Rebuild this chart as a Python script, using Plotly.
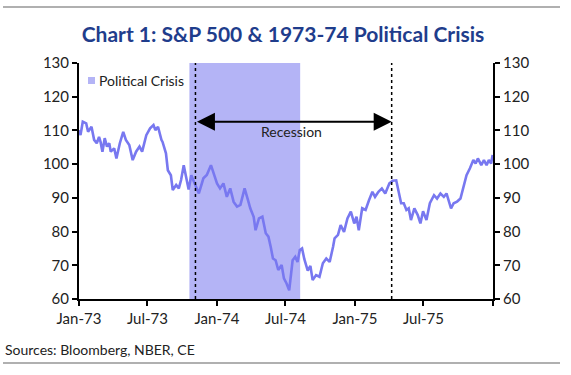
import plotly.graph_objects as go

# ---- data ----
dates = [
    "1973-01-02", "1973-01-05", "1973-01-11", "1973-01-20", "1973-01-25", "1973-02-03", "1973-02-10",
    "1973-02-17", "1973-02-23", "1973-02-27", "1973-03-04", "1973-03-10", "1973-03-16", "1973-03-22",
    "1973-03-26", "1973-04-04", "1973-04-10", "1973-04-19", "1973-04-28", "1973-05-05", "1973-05-14",
    "1973-05-23", "1973-06-01", "1973-06-10", "1973-06-17", "1973-06-28", "1973-07-08", "1973-07-17",
    "1973-07-22", "1973-07-29", "1973-08-07", "1973-08-10", "1973-08-19", "1973-08-24", "1973-09-01",
    "1973-09-06", "1973-09-15", "1973-09-22", "1973-09-28", "1973-10-05", "1973-10-11", "1973-10-18",
    "1973-10-25", "1973-11-03", "1973-11-14", "1973-11-26", "1973-12-05", "1973-12-16", "1973-12-22",
    "1974-01-01", "1974-01-09", "1974-01-18", "1974-01-27", "1974-02-05", "1974-02-14", "1974-02-23",
    "1974-03-04", "1974-03-15", "1974-03-24", "1974-03-30", "1974-04-08", "1974-04-13", "1974-04-22",
    "1974-05-01", "1974-05-10", "1974-05-17", "1974-05-23", "1974-05-29", "1974-06-05", "1974-06-12",
    "1974-06-21", "1974-06-27", "1974-07-04", "1974-07-11", "1974-07-20", "1974-07-27", "1974-08-02",
    "1974-08-08", "1974-08-14", "1974-08-20", "1974-08-29", "1974-09-05", "1974-09-11", "1974-09-20",
    "1974-09-29", "1974-10-08", "1974-10-17", "1974-10-26", "1974-11-04", "1974-11-08", "1974-11-17",
    "1974-11-24", "1974-12-03", "1974-12-12", "1974-12-21", "1974-12-30", "1975-01-05", "1975-01-11",
    "1975-01-20", "1975-01-29", "1975-02-07", "1975-02-16", "1975-02-23", "1975-03-04", "1975-03-13",
    "1975-03-22", "1975-04-02", "1975-04-11", "1975-04-20", "1975-04-27", "1975-05-03", "1975-05-10",
    "1975-05-17", "1975-05-23", "1975-05-29", "1975-06-07", "1975-06-16", "1975-06-23", "1975-06-30",
    "1975-07-09", "1975-07-18", "1975-07-29", "1975-08-06", "1975-08-15", "1975-08-24", "1975-08-31",
    "1975-09-06", "1975-09-12", "1975-09-19", "1975-09-28", "1975-10-07", "1975-10-16", "1975-10-23",
    "1975-11-01", "1975-11-10", "1975-11-16", "1975-11-22", "1975-12-01", "1975-12-08", "1975-12-15",
    "1975-12-21", "1975-12-27", "1975-12-31",
]
sp500 = [
    110.1, 108.6, 112.6, 112.1, 109.6, 111.1, 107.2,
    106.2, 108.1, 106.6, 103.7, 107.7, 105.2, 106.2,
    103.7, 104.7, 101.7, 106.2, 109.6, 107.2, 105.7,
    101.2, 103.7, 105.2, 103.7, 108.6, 110.6, 111.6,
    110.1, 111.1, 107.2, 106.6, 103.2, 98.2, 96.7,
    92.3, 93.8, 92.8, 95.3, 99.7, 96.3, 92.5,
    96.7, 94.3, 91.3, 95.8, 96.8, 99.7, 97.7,
    94.3, 92.8, 94.3, 90.3, 92.8, 88.8, 87.4,
    87.9, 92.8, 89.3, 86.9, 84.4, 80.4, 83.9,
    84.4, 79.5, 78.5, 75.5, 72.0, 71.5, 68.6,
    70.1, 66.1, 64.6, 62.6, 71.5, 72.5, 71.0,
    74.5, 75.0, 71.8, 68.4, 69.8, 65.6, 67.1,
    66.6, 70.6, 72.0, 71.0, 75.5, 78.0, 79.0,
    81.9, 79.9, 83.9, 85.9, 82.4, 84.4, 80.4,
    86.9, 86.4, 89.3, 91.8, 90.3, 91.8, 92.8,
    91.3, 94.3, 95.1, 95.2, 91.8, 88.4, 88.4,
    86.4, 86.9, 83.4, 86.9, 84.9, 82.4, 86.0,
    83.4, 88.4, 90.8, 89.8, 91.3, 90.3, 91.3,
    89.3, 86.9, 88.4, 88.9, 89.8, 93.8, 96.7,
    98.8, 101.2, 100.2, 101.7, 99.7, 101.2, 99.7,
    101.2, 100.2, 102.7,
]

crisis_start, crisis_end = "1973-10-20", "1974-08-09"
recession_start, recession_end = "1973-11-05", "1975-04-08"
arrow_level = 112.6
label_level = 109.6

x_tickvals = ["1973-01-01", "1973-07-01", "1974-01-01", "1974-07-01", "1975-01-01", "1975-07-01", "1976-01-01"]
x_ticktext = ["Jan-73", "Jul-73", "Jan-74", "Jul-74", "Jan-75", "Jul-75", ""]
y_ticks = [60, 70, 80, 90, 100, 110, 120, 130]

# ---- styling ----
LINE = "rgb(120,120,240)"
SHADE = "rgb(180,180,246)"
FONT = "Lato"
TXT = "#222222"

# plot area pixel geometry
L, R, T, B = 79, 493, 63, 299
W, H = 571, 375
def px(xp):
    return (xp - L) / (R - L)
def py(yp):
    return (B - yp) / (B - T)

fig = go.Figure()
fig.add_trace(go.Scatter(x=dates, y=sp500, mode="lines",
                         line=dict(color=LINE, width=2.6), showlegend=False, hoverinfo="x+y"))
# dummy trace for right axis
fig.add_trace(go.Scatter(x=[dates[0]], y=[sp500[0]], yaxis="y2", mode="lines",
                         line=dict(width=0), showlegend=False, hoverinfo="skip"))

shapes = [
    dict(type="rect", xref="x", yref="paper", x0=crisis_start, x1=crisis_end, y0=0, y1=1,
         fillcolor=SHADE, line=dict(width=0), layer="below"),
    dict(type="line", xref="x", yref="paper", x0=recession_start, x1=recession_start, y0=0, y1=1,
         line=dict(color="black", width=1.5, dash="dot")),
    dict(type="line", xref="x", yref="paper", x0=recession_end, x1=recession_end, y0=0, y1=1,
         line=dict(color="black", width=1.5, dash="dot")),
    # legend swatch
    dict(type="rect", xref="paper", yref="paper", x0=px(88), x1=px(95), y0=py(84), y1=py(77),
         fillcolor=SHADE, line=dict(width=0)),
    # top and bottom rules
    dict(type="line", xref="paper", yref="paper", x0=px(3), x1=px(560), y0=py(7), y1=py(7),
         line=dict(color="#b0b0b0", width=2)),
    dict(type="line", xref="paper", yref="paper", x0=px(3), x1=px(560), y0=py(363), y1=py(363),
         line=dict(color="#b0b0b0", width=2)),
]

annotations = [
    dict(x=recession_end, y=arrow_level, ax=recession_start, ay=arrow_level,
         xref="x", yref="y", axref="x", ayref="y", text="", showarrow=True,
         arrowhead=2, arrowside="end+start", arrowsize=1.8, arrowwidth=2, arrowcolor="black",
         standoff=0, startstandoff=0),
    dict(x=px(291), y=label_level, xref="paper", yref="y", text="Recession", showarrow=False,
         font=dict(family=FONT, size=14, color=TXT), xanchor="center", yanchor="middle"),
    dict(x=px(97), y=py(80), xref="paper", yref="paper", text="Political Crisis", showarrow=False,
         font=dict(family=FONT, size=14, color=TXT), xanchor="left", yanchor="middle"),
    dict(x=px(3), y=py(349), xref="paper", yref="paper", text="Sources: Bloomberg, NBER, CE",
         showarrow=False, font=dict(family=FONT, size=14, color=TXT), xanchor="left", yanchor="middle"),
]

axis_common = dict(showline=True, linecolor="black", linewidth=2, ticks="outside", ticklen=5,
                   tickwidth=2, tickcolor="black", showgrid=False, zeroline=False,
                   tickfont=dict(family=FONT, size=15, color=TXT))

fig.update_layout(
    width=W, height=H, autosize=False,
    margin=dict(l=L, r=W - R, t=T, b=H - B, pad=0),
    paper_bgcolor="white", plot_bgcolor="white",
    title=dict(text="<b>Chart 1: S&amp;P 500 &amp; 1973-74 Political Crisis</b>", x=283 / W, xanchor="center",
               y=1 - 35 / H, yanchor="middle", xref="container", yref="container",
               font=dict(family=FONT, size=21, color="rgb(31,61,140)")),
    xaxis=dict(type="date", range=["1973-01-01", "1976-01-01"], tickvals=x_tickvals, ticktext=x_ticktext,
               **axis_common),
    yaxis=dict(range=[60, 130], tickvals=y_ticks, **axis_common),
    yaxis2=dict(range=[60, 130], tickvals=y_ticks, overlaying="y", side="right", **axis_common),
    shapes=shapes, annotations=annotations, showlegend=False,
)

fig.write_html("out.html", config={"displayModeBar": False},
               post_script="document.body.style.margin='0';")
